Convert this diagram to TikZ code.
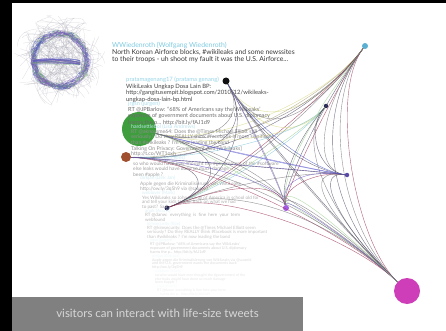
\documentclass[tikz,border=0pt]{standalone}
\usepackage{fontspec}
\setmainfont{Lato}
\usetikzlibrary{calc}

% user circles
\definecolor{nodecyan}{HTML}{5BB0D2}
\definecolor{nodeblack}{HTML}{111111}
\definecolor{nodenavy}{HTML}{2A2A55}
\definecolor{nodeindigo}{HTML}{5A4AA8}
\definecolor{nodegreen}{HTML}{3E9E3E}
\definecolor{noderust}{HTML}{A0502E}
\definecolor{nodeviolet}{HTML}{A45AE6}
\definecolor{nodemagenta}{HTML}{CE3EB8}
% links
\definecolor{egray}{HTML}{6E6A70}
\definecolor{edark}{HTML}{4A4560}
\definecolor{epurple}{HTML}{6A4FC8}
\definecolor{eblue}{HTML}{4A5AD0}
\definecolor{eyellow}{HTML}{D8D880}
\definecolor{egreen}{HTML}{9CCF8C}
\definecolor{ecyan}{HTML}{7CC4D8}
\definecolor{ered}{HTML}{9A2E50}
\definecolor{eolive}{HTML}{A8A070}
% hairball
\definecolor{hblue}{HTML}{4F5FC0}
\definecolor{hpurple}{HTML}{7A55B5}
\definecolor{hgreen}{HTML}{6AA86A}
\definecolor{hgray}{HTML}{9A9AA8}
% text and caption
\definecolor{tname}{HTML}{7ECBE2}
\definecolor{capbar}{HTML}{808080}
\definecolor{captext}{HTML}{D8D8D8}

% curved link, both ends leave toward the hub
\newcommand{\curvelink}[4]{\draw[lnk,#3] (#1) .. controls ($(#1)!#4!(hub)$) and ($(#2)!#4!(hub)$) .. (#2);}

\begin{document}
\begin{tikzpicture}[x=1pt,y=-1pt,
    vis/.style={circle,inner sep=0pt,draw=none},
    tweet/.style={anchor=north west,inner sep=0pt,align=left,text=black!#1},
    lnk/.style={line width=.4pt,opacity=.75}]

    % page and frame
    \fill[white] (0,0) rectangle (446,331);
    \useasboundingbox (0,0) rectangle (446,331);
    \fill[black] (0,0) rectangle (12,331);
    \fill[black] (0,0) rectangle (446,3);

    % hairball in the corner
    \coordinate (hb) at (60,60);
    \pgfmathdeclarerandomlist{hbcols}{{hblue}{hpurple}{hgreen}{hgray}{hblue}{hpurple}}
    \pgfmathsetseed{11}
    % loose wisps
    \foreach \i in {1,...,90}{
        \pgfmathsetmacro\a{rnd*360}
        \pgfmathsetmacro\b{\a+40+rnd*120}
        \pgfmathsetmacro\ra{26+20*rnd}
        \pgfmathsetmacro\rd{26+20*rnd}
        \pgfmathsetmacro\xb{rnd*100-50}
        \pgfmathsetmacro\yb{rnd*100-50}
        \pgfmathsetmacro\xc{rnd*100-50}
        \pgfmathsetmacro\yc{rnd*100-50}
        \draw[hgray,line width=.25pt,opacity=.35] ($(hb)+(\a:\ra)$) .. controls ($(hb)+(\xb,\yb)$) and ($(hb)+(\xc,\yc)$) .. ($(hb)+(\b:\rd)$);
    }
    % dense ring
    \foreach \i in {1,...,420}{
        \pgfmathsetmacro\a{rnd*360}
        \pgfmathsetmacro\b{\a+10+rnd*25}
        \pgfmathsetmacro\ra{23+7*rnd}
        \pgfmathsetmacro\rb{21+13*rnd}
        \pgfmathsetmacro\rc{21+13*rnd}
        \pgfmathsetmacro\rd{23+7*rnd}
        \pgfmathsetmacro\ta{\a+rnd*24-12}
        \pgfmathsetmacro\tb{\b+rnd*24-12}
        \pgfmathrandomitem\col{hbcols}
        \draw[color=\col,line width=.3pt,opacity=.6] ($(hb)+(\a:\ra)$) .. controls ($(hb)+(\ta:\rb)$) and ($(hb)+(\tb:\rc)$) .. ($(hb)+(\b:\rd)$);
    }
    % crossbar
    \foreach \i in {1,...,40}{
        \pgfmathsetmacro\ya{0+5*rnd}
        \pgfmathsetmacro\yb{-4+10*rnd}
        \pgfmathsetmacro\yc{-4+10*rnd}
        \pgfmathsetmacro\yd{0+5*rnd}
        \pgfmathrandomitem\col{hbcols}
        \draw[color=\col,line width=.3pt,opacity=.55] ($(hb)+(-27,\ya)$) .. controls ($(hb)+(-10,\yb)$) and ($(hb)+(8,\yc)$) .. ($(hb)+(20,\yd)$);
    }

    % users
    \node[vis,fill=nodecyan,minimum size=6pt] (ucyan) at (365,46) {};
    \node[vis,fill=nodeblack,minimum size=7pt] (ublack) at (226,81) {};
    \node[vis,fill=nodenavy,minimum size=4.5pt] (unavy) at (326,106) {};
    \node[vis,fill=nodeindigo,minimum size=4.5pt] (uindigo) at (347,175) {};
    \node[vis,fill=nodegreen,minimum size=34pt] (ugreen) at (139,129) {};
    \node[vis,fill=noderust,minimum size=10pt] (urust) at (126,157) {};
    \node[vis,fill=nodenavy,minimum size=5pt] (udark) at (167,208) {};
    \node[vis,fill=nodeviolet,minimum size=6pt] (uviolet) at (286,208) {};
    \node[vis,fill=nodemagenta,minimum size=26pt] (umagenta) at (407,291) {};

    % tweets, fading out down the page
    \node[tweet=78,font=\fontsize{6.8}{5.2}\selectfont] (t1) at (112,42) {{\color{tname}WWiedenroth (Wolfgang Wiedenroth)}\\North Korean Airforce blocks, \#wikileaks and some newssites\\to their troops - uh shoot my fault it was the U.S. Airforce...};
    \node[tweet=72,font=\fontsize{5.9}{5}\selectfont] (t2) at (126,77) {{\color{tname!80}pratamagenang17 (pratama genang)}\\WikiLeaks Ungkap Dosa Lain BP:\\http://gangitusempit.blogspot.com/2010/12/wikileaks-\\ungkap-dosa-lain-bp.html};
    \node[tweet=58,font=\fontsize{5.6}{4.8}\selectfont] (t3) at (128,101) {{\color{tname!65}jrgsn (jurgen)}\\RT @JPBarlow: ``68\% of Americans say the WikiLeaks'\\exposure of government documents about U.S. diplomacy\\harms the p... http://bit.ly/fAJ1d9};
    \node[tweet=45,font=\fontsize{5.2}{4.5}\selectfont] (t4) at (131,124) {{\color{tname!50}hardsettlebol (Lisa Andrews)}\\RT @aknorsme64: Does the @Times Michael Elliott still\\seriously? Do they REALLY think \#facebook is more significant\\than \#wikileaks ? I'm now leading the band\\Talking On Privacy: Government And [Wikileaks]\\http://t.co/WT1oxh};
    \node[tweet=38,font=\fontsize{4.9}{4.4}\selectfont] (t5) at (133,155.5) {{\color{tname!40}mobilejunkie (Tom Rees)}\\so who would have ever thought the \#government of the \#software\\else leaks would have done so much damage\\been \#apple ?};
    \node[tweet=34,font=\fontsize{4.8}{4.4}\selectfont] (t6) at (140,176) {{\color{tname!35}dirkjan (Dirk Jan)}\\Apple gegen die Kriminalisierung von WikiLeaks\\http://ow.ly/3q5h9 via @sauseid};
    \node[tweet=30,font=\fontsize{4.6}{4}\selectfont] (t7) at (142,190.5) {{\color{tname!30}weblover (Mark)}\\Yes WikiLeaks so John tells all of America in school old for\\and tell your kids to look back on what we had\\to past? Sad};
    \node[tweet=28,font=\fontsize{4.5}{4}\selectfont] (t8) at (145,208.5) {{\color{tname!25}anuk (Anu K)}\\RT @danw: \ everything \ is \ fine \ here \ your \ term\\webfound};
    \node[tweet=22,font=\fontsize{4.4}{4}\selectfont] (t9) at (147,221.5) {{\color{tname!20}kimsecurity (Kim)}\\RT @kimsecurity: Does the @Times Michael Elliott seem\\seriously? Do they REALLY think \#facebook is more important\\than \#wikileaks ? I'm now leading the band};
    \node[tweet=18,font=\fontsize{3.8}{3.8}\selectfont] (t10) at (150,238.5) {{\color{tname!16}jrgsn (jurgen)}\\RT @JPBarlow: ``68\% of Americans say the WikiLeaks'\\exposure of government documents about U.S. diplomacy\\harms the p... http://bit.ly/fAJ1d9};
    \node[tweet=14,font=\fontsize{3.7}{3.7}\selectfont] (t11) at (152,254.5) {{\color{tname!12}dirkjan (Dirk Jan)}\\Apple gegen die Kriminalisierung von WikiLeaks via @sauseid\\and the U.S. government wants the documents back\\http://ow.ly/3q5h9};
    \node[tweet=10,font=\fontsize{3.6}{3.6}\selectfont] (t12) at (155,270) {{\color{tname!10}weblover (Mark)}\\so who would have ever thought the \#government of the\\else leaks would have done so much damage\\been \#apple ?};
    \node[tweet=8,font=\fontsize{3.5}{3.5}\selectfont] (t13) at (157,285) {{\color{tname!8}anuk (Anu K)}\\RT @danw: everything is fine here your term};
    \node[tweet=6,font=\fontsize{3.4}{3.4}\selectfont] (t14) at (160,293) {harms the p... http://bit.ly/fAJ1d9};

    % links between users
    \coordinate (hub) at (275,165);
    \curvelink{ucyan}{ublack}{egray}{.7}
    \curvelink{ucyan}{ublack}{eyellow}{.6}
    \curvelink{ucyan}{ugreen}{eyellow}{.5}
    \curvelink{ucyan}{ugreen}{egray}{.6}
    \curvelink{ucyan}{urust}{eolive}{.5}
    \curvelink{ucyan}{urust}{edark}{.6}
    \curvelink{ucyan}{udark}{ered}{.45}
    \curvelink{ucyan}{udark}{egray}{.55}
    \curvelink{ucyan}{uviolet}{ered}{.3}
    \curvelink{ucyan}{uviolet}{edark}{.45}
    \curvelink{ucyan}{umagenta}{egray}{.5}
    \curvelink{ucyan}{umagenta}{edark}{.6}
    \curvelink{ucyan}{umagenta}{ered}{.4}
    \curvelink{ucyan}{unavy}{egreen}{.4}
    \curvelink{ucyan}{uindigo}{egray}{.5}
    \curvelink{ublack}{udark}{edark}{.55}
    \curvelink{ublack}{uviolet}{egray}{.6}
    \curvelink{ublack}{uviolet}{epurple}{.45}
    \curvelink{ublack}{uindigo}{edark}{.6}
    \curvelink{ublack}{umagenta}{egray}{.55}
    \curvelink{ublack}{umagenta}{edark}{.45}
    \curvelink{ublack}{unavy}{eyellow}{.6}
    \curvelink{ublack}{ugreen}{egray}{.5}
    \curvelink{ublack}{urust}{edark}{.6}
    \curvelink{unavy}{udark}{ecyan}{.6}
    \curvelink{unavy}{udark}{egreen}{.45}
    \curvelink{unavy}{uviolet}{egreen}{.5}
    \curvelink{unavy}{ugreen}{eyellow}{.55}
    \curvelink{unavy}{urust}{ecyan}{.5}
    \curvelink{unavy}{umagenta}{egray}{.6}
    \curvelink{unavy}{uindigo}{edark}{.4}
    \curvelink{unavy}{uviolet}{edark}{.6}
    \curvelink{uindigo}{ugreen}{epurple}{.35}
    \curvelink{uindigo}{ugreen}{eblue}{.5}
    \curvelink{uindigo}{urust}{epurple}{.4}
    \curvelink{uindigo}{urust}{edark}{.3}
    \curvelink{uindigo}{udark}{egray}{.55}
    \curvelink{uindigo}{uviolet}{epurple}{.6}
    \curvelink{uindigo}{uviolet}{ered}{.45}
    \curvelink{uindigo}{umagenta}{edark}{.5}
    \curvelink{uindigo}{umagenta}{egray}{.65}
    \curvelink{uindigo}{ublack}{eblue}{.5}
    \curvelink{ugreen}{udark}{edark}{.6}
    \curvelink{ugreen}{umagenta}{egray}{.55}
    \curvelink{ugreen}{umagenta}{egreen}{.45}
    \curvelink{ugreen}{uviolet}{egray}{.6}
    \curvelink{urust}{udark}{edark}{.5}
    \curvelink{urust}{umagenta}{ered}{.5}
    \curvelink{urust}{umagenta}{egray}{.6}
    \curvelink{urust}{uviolet}{epurple}{.55}
    \curvelink{udark}{umagenta}{egray}{.6}
    \curvelink{udark}{umagenta}{ered}{.45}
    \curvelink{udark}{uviolet}{ered}{.6}
    \curvelink{uviolet}{umagenta}{egray}{.5}
    \curvelink{uviolet}{umagenta}{epurple}{.35}
    \curvelink{uviolet}{umagenta}{egreen}{.65}

    % caption bar
    \fill[capbar] (12,297) rectangle (303,331);
    \node[font=\fontsize{11.5}{13}\selectfont,text=captext] (caption) at (157.5,313) {visitors can interact with life-size tweets};
\end{tikzpicture}
\end{document}
